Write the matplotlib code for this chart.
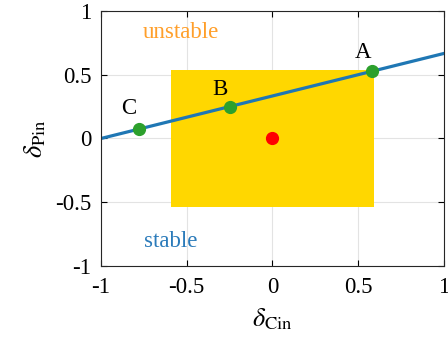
import matplotlib
matplotlib.use('Agg')
import matplotlib.pyplot as plt
from matplotlib.patches import Rectangle

plt.rcParams['font.family'] = 'Liberation Serif'
plt.rcParams['mathtext.fontset'] = 'stix'

# data
line_x = [-1.0, 1.0]
line_y = [0.0, 0.667]
pts_x = [0.58, -0.25, -0.78]
pts_y = [0.527, 0.25, 0.073]
pt_names = ['A', 'B', 'C']
name_x = [0.526, -0.306, -0.837]
name_y = [0.675, 0.387, 0.238]
box_x = [-0.59, 0.59]
box_y = [-0.535, 0.535]
origin = [0.0, 0.0]
ticks = [-1, -0.5, 0, 0.5, 1]
tick_labels = ['-1', '-0.5', '0', '0.5', '1']

fig = plt.figure(figsize=(4.48, 3.43), dpi=100)
ax = fig.add_axes([0.2254, 0.2245, 0.7656, 0.7435])

ax.add_patch(Rectangle((box_x[0], box_y[0]), box_x[1] - box_x[0], box_y[1] - box_y[0],
                       facecolor='#ffd700', edgecolor='none', zorder=1))
ax.plot(line_x, line_y, color='#1f77b4', linewidth=2.3, zorder=2)
ax.plot(pts_x, pts_y, 'o', color='#2ca02c', markersize=8.5, zorder=3)
ax.plot(origin[0], origin[1], 'o', color='#ff0000', markersize=8.5, zorder=3)

for n, tx, ty in zip(pt_names, name_x, name_y):
    ax.text(tx, ty, n, fontsize=16.5, ha='center', va='center')

ax.text(-0.755, 0.83, 'unstable', color='#ff9f2a', fontsize=16.5, va='center')
ax.text(-0.75, -0.81, 'stable', color='#2b7bba', fontsize=16.5, va='center')

ax.set_xlim(-1, 1)
ax.set_ylim(-1, 1)
ax.set_xticks(ticks)
ax.set_xticklabels(tick_labels)
ax.set_yticks(ticks)
ax.set_yticklabels(tick_labels)
ax.tick_params(direction='in', labelsize=16.5, length=4, top=True, right=True)
ax.tick_params(axis='x', pad=8)
ax.tick_params(axis='y', pad=7)
ax.grid(True, color='#e3e3e3', linewidth=0.8, zorder=0)
ax.set_axisbelow(True)
for s in ax.spines.values():
    s.set_color('#262626')
    s.set_linewidth(0.8)

ax.set_xlabel(r'$\delta_{\rm Cin}$', fontsize=19, labelpad=6)
ax.set_ylabel(r'$\delta_{\rm Pin}$', fontsize=19, labelpad=5)

plt.savefig('out.png', dpi=100)
